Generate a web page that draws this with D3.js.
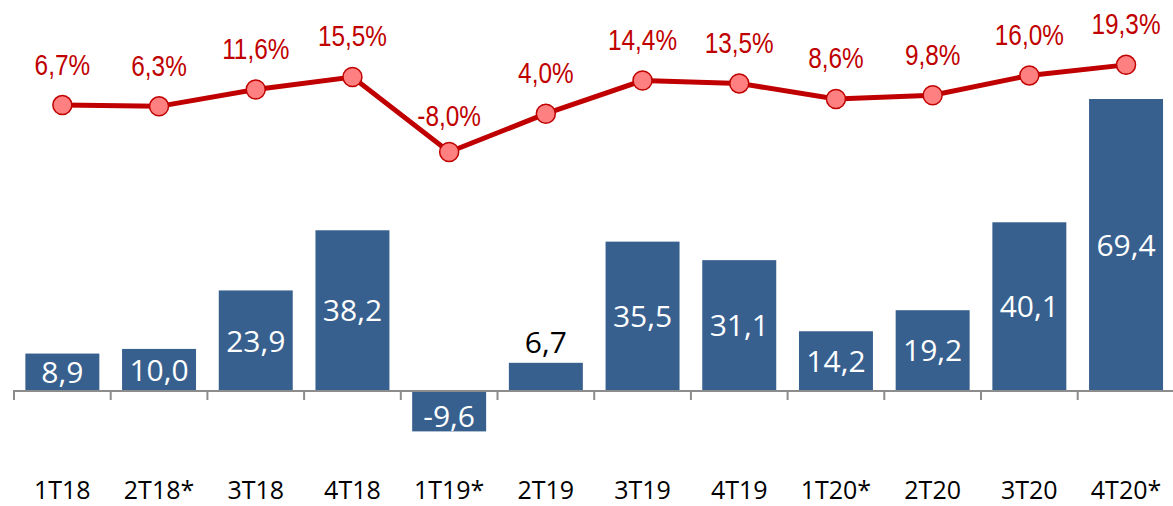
<!DOCTYPE html>
<html>
<head>
<meta charset="utf-8">
<script src="https://cdn.jsdelivr.net/npm/d3@7"></script>
<style>
  body { margin: 0; background: #fff; }
  svg { display: block; }
</style>
</head>
<body>
<svg id="chart" width="1173" height="506"></svg>
<script>
"use strict";

const quarters = ["1T18", "2T18*", "3T18", "4T18", "1T19*", "2T19", "3T19", "4T19", "1T20*", "2T20", "3T20", "4T20*"];
const netIncome = [8.9, 10.0, 23.9, 38.2, -9.6, 6.7, 35.5, 31.1, 14.2, 19.2, 40.1, 69.4];
const roe = [6.7, 6.3, 11.6, 15.5, -8.0, 4.0, 14.4, 13.5, 8.6, 9.8, 16.0, 19.3];

// comma decimals, plain hyphen for negatives
const fmt = (v) => v.toFixed(1).replace(".", ",");

const svg = d3.select("#chart");

const x = d3.scaleBand()
  .domain(quarters)
  .range([14, 1174.4])
  .paddingInner(0.235)
  .paddingOuter(0.1175);

const yBar = d3.scaleLinear().domain([0, 69.4]).range([391, 99]);
const yLine = d3.scaleLinear().domain([-8, 15.5]).range([152, 77]);

const cx = (i) => x(quarters[i]) + x.bandwidth() / 2;
const barH = (d) => Math.abs(yBar(d) - yBar(0));

// bars
svg.append("g")
  .selectAll("rect")
  .data(netIncome)
  .enter()
  .append("rect")
  .attr("x", (d, i) => x(quarters[i]))
  .attr("width", x.bandwidth())
  .attr("y", (d) => Math.min(yBar(d), yBar(0)))
  .attr("height", (d) => barH(d))
  .attr("fill", "#37608f");

// bar labels
svg.append("g")
  .selectAll("text")
  .data(netIncome)
  .enter()
  .append("text")
  .attr("x", (d, i) => cx(i))
  .attr("y", (d) => {
    if (barH(d) < 32) return yBar(d) - 21;
    return (yBar(d) + yBar(0)) / 2 + (d < 0 ? 5 : 0);
  })
  .attr("dy", "0.36em")
  .attr("text-anchor", "middle")
  .attr("font-family", "Open Sans, sans-serif")
  .attr("font-size", 30)
  .attr("fill", (d) => (barH(d) < 32 ? "#000" : "#fff"))
  .text((d) => fmt(d));

// axis line + ticks between categories
const edges = d3.range(quarters.length + 1).map((i) => x.range()[0] + i * x.step());
const axis = svg.append("g").attr("stroke", "#8c8c8c").attr("stroke-width", 2);
axis.append("line")
  .attr("x1", 13).attr("x2", 1173)
  .attr("y1", yBar(0)).attr("y2", yBar(0));
axis.selectAll(".tick")
  .data(edges)
  .enter()
  .append("line")
  .attr("class", "tick")
  .attr("x1", (d) => d).attr("x2", (d) => d)
  .attr("y1", yBar(0)).attr("y2", yBar(0) + 9);

// category labels
svg.append("g")
  .selectAll("text")
  .data(quarters)
  .enter()
  .append("text")
  .attr("x", (d) => x(d) + x.bandwidth() / 2)
  .attr("y", 490)
  .attr("dy", "0.36em")
  .attr("text-anchor", "middle")
  .attr("font-family", "Open Sans, sans-serif")
  .attr("font-size", 25)
  .attr("fill", "#000")
  .text((d) => d);

// ROE line
const line = d3.line()
  .x((d, i) => cx(i))
  .y((d) => yLine(d));

svg.append("path")
  .datum(roe)
  .attr("d", line)
  .attr("fill", "none")
  .attr("stroke", "#c00000")
  .attr("stroke-width", 5);

svg.append("g")
  .selectAll("circle")
  .data(roe)
  .enter()
  .append("circle")
  .attr("cx", (d, i) => cx(i))
  .attr("cy", (d) => yLine(d))
  .attr("r", 9.5)
  .attr("fill", "#ff8080")
  .attr("stroke", "#c00000")
  .attr("stroke-width", 1.5);

// narrow red percentage labels
svg.append("g")
  .selectAll("text")
  .data(roe)
  .enter()
  .append("text")
  .attr("transform", (d, i) => `translate(${cx(i)},${yLine(d) - (d < 0 ? 36 : 41)}) scale(0.84,1)`)
  .attr("dy", "0.36em")
  .attr("text-anchor", "middle")
  .attr("font-family", "Liberation Sans, sans-serif")
  .attr("font-size", 29)
  .attr("fill", "#c00000")
  .text((d) => fmt(d) + "%");
</script>
</body>
</html>
